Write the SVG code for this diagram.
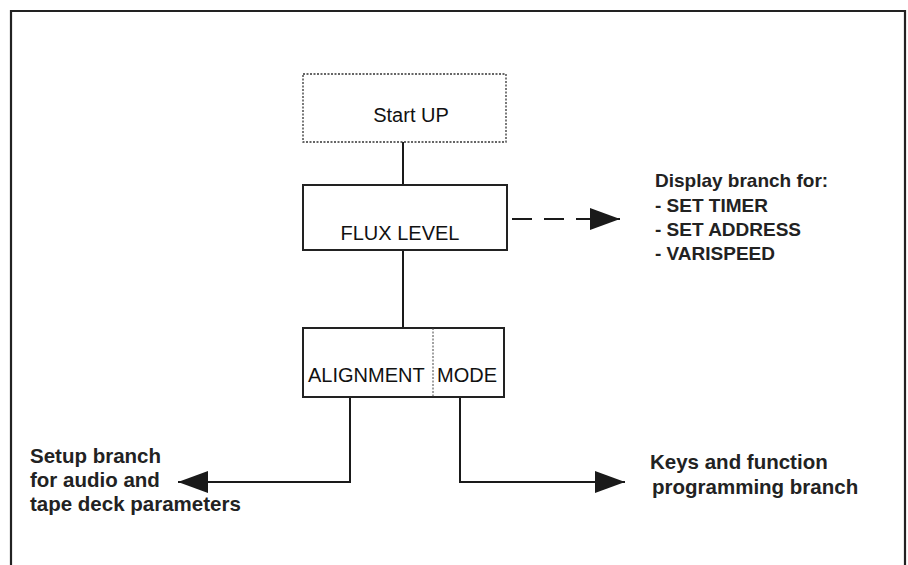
<svg xmlns="http://www.w3.org/2000/svg" width="908" height="565" viewBox="0 0 908 565">
<defs>
<style>
.box{fill:#fff;stroke:#222;stroke-width:2}
.dot{fill:#fff;stroke:#333;stroke-width:1.3;stroke-dasharray:2 1.5}
.ln{fill:none;stroke:#1a1a1a;stroke-width:2}
.dash{fill:none;stroke:#1a1a1a;stroke-width:2;stroke-dasharray:20 12}
.t{font-family:"Liberation Sans",Arial,sans-serif;font-size:20px;fill:#111}
.b{font-family:"Liberation Sans",Arial,sans-serif;font-size:20.5px;font-weight:bold;fill:#222}
.d{font-family:"Liberation Sans",Arial,sans-serif;font-size:19px;font-weight:bold;fill:#222}
</style>
<marker id="ah" viewBox="0 0 30 22" refX="30" refY="11" markerWidth="30" markerHeight="22" markerUnits="userSpaceOnUse" orient="auto">
<path d="M0,0 L30,11 L0,22 Z" fill="#1a1a1a"/>
</marker>
</defs>
<rect width="908" height="565" fill="#fff"/>
<path d="M11,570 V11 H905 V570" fill="none" stroke="#222" stroke-width="2.2"/>
<g id="connectors">
<line class="ln" x1="403" y1="142" x2="403" y2="185"/>
<line class="ln" x1="403" y1="250" x2="403" y2="328"/>
<line class="dash" x1="508" y1="219" x2="620" y2="219" stroke-dashoffset="-4" marker-end="url(#ah)"/>
<polyline class="ln" points="350,397 350,482 178,482" marker-end="url(#ah)"/>
<polyline class="ln" points="460,397 460,482 625,482" marker-end="url(#ah)"/>
</g>
<g id="startup">
<rect class="dot" x="303" y="74" width="203" height="68"/>
<text class="t" x="411" y="122" text-anchor="middle" font-size="19.5">Start UP</text>
</g>
<g id="fluxlevel">
<rect class="box" x="303" y="185" width="204" height="65"/>
<text class="t" x="400" y="240" text-anchor="middle">FLUX LEVEL</text>
</g>
<g id="alignmentmode">
<rect class="box" x="303" y="328" width="201" height="69"/>
<line x1="433" y1="328" x2="433" y2="397" stroke="#444" stroke-width="1" stroke-dasharray="2 1.5"/>
<text class="t" x="308" y="382" font-size="20.5">ALIGNMENT</text>
<text class="t" x="437" y="382">MODE</text>
</g>
<g id="display">
<text class="d" x="655" y="187" font-size="18">Display branch for:</text>
<text class="d" x="655" y="212">- SET TIMER</text>
<text class="d" x="655" y="236">- SET ADDRESS</text>
<text class="d" x="655" y="260">- VARISPEED</text>
</g>
<g id="setup">
<text class="b" x="30" y="463">Setup branch</text>
<text class="b" x="30" y="487">for audio and</text>
<text class="b" x="30" y="511">tape deck parameters</text>
</g>
<g id="keys">
<text class="b" x="650" y="469">Keys and function</text>
<text class="b" x="652" y="494">programming branch</text>
</g>
</svg>
